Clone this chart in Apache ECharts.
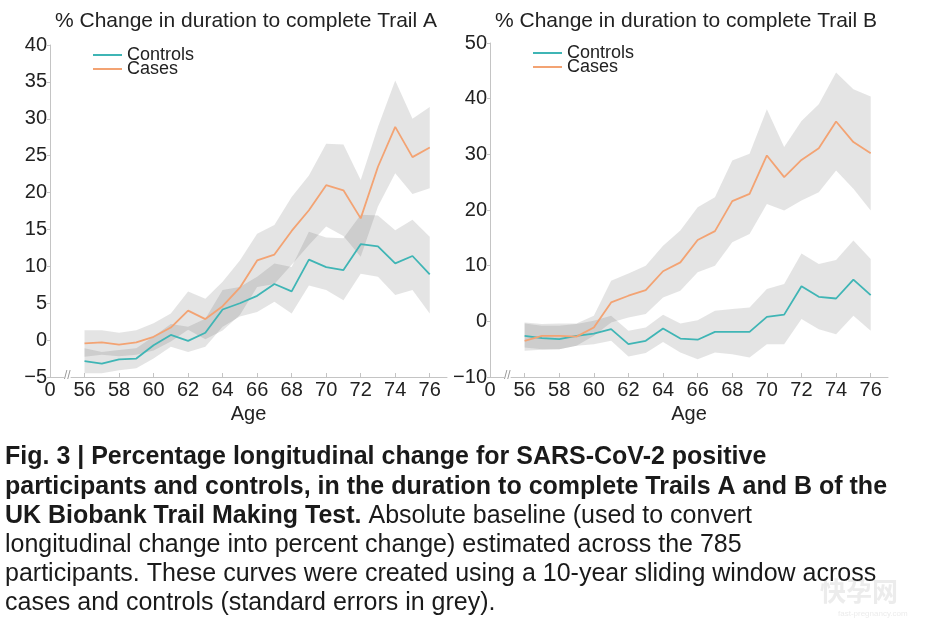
<!DOCTYPE html>
<html>
<head>
<meta charset="utf-8">
<script src="https://cdn.jsdelivr.net/npm/echarts@6/dist/echarts.min.js"></script>
<style>
html,body{margin:0;padding:0;background:#fff;}
#c{width:935px;height:625px;}
</style>
</head>
<body>
<div id="c"></div>
<script>
// ---------- data ----------
const ages = [56,57,58,59,60,61,62,63,64,65,66,67,68,69,70,71,72,73,74,75,76];

// Trail A
const aControls   = [-2.85,-3.2,-2.6,-2.5,-0.7,0.7,-0.1,1.0,4.15,5.0,6.0,7.6,6.6,10.9,9.9,9.5,13.0,12.7,10.4,11.4,8.9];
const aControlsLo = [-4.5,-4.5,-4.1,-3.8,-2.5,-0.9,-1.6,-0.9,1.8,3.2,3.8,5.2,3.6,7.4,6.8,5.4,9.0,8.6,6.1,6.8,3.6];
const aControlsHi = [-1.1,-1.6,-1.35,-1.1,0.5,2.2,1.8,2.9,6.8,7.2,8.6,10.4,9.9,14.7,13.9,13.8,17.0,16.9,14.9,16.3,14.0];
const aCases      = [-0.45,-0.3,-0.6,-0.3,0.45,1.7,4.0,2.85,4.6,7.1,10.8,11.6,14.8,17.6,21.0,20.3,16.5,23.5,28.9,24.8,26.1];
const aCasesLo    = [-2.25,-2.0,-2.2,-2.0,-1.4,-0.2,1.4,0.1,1.3,3.4,7.2,7.6,10.2,12.9,15.4,14.1,11.3,18.1,22.6,19.8,20.6];
const aCasesHi    = [1.35,1.35,1.0,1.35,2.3,3.6,6.6,5.6,7.9,10.8,14.4,15.6,19.4,22.3,26.6,26.5,21.7,28.9,35.2,30.0,31.6];

// Trail B
const bControls   = [-2.6,-3.0,-3.2,-2.6,-2.2,-1.4,-4.1,-3.5,-1.3,-3.1,-3.3,-1.9,-1.9,-1.9,0.8,1.2,6.3,4.4,4.1,7.5,4.7];
const bControlsLo = [-4.7,-5.0,-5.0,-4.4,-4.1,-3.5,-6.3,-5.7,-3.7,-5.6,-6.8,-5.6,-5.9,-6.5,-4.1,-4.1,0.4,-1.4,-2.3,1.0,-1.7];
const bControlsHi = [-0.4,-0.8,-0.8,-0.5,0.1,1.0,-1.7,-1.1,1.2,-0.4,0.2,1.9,2.2,2.5,5.8,6.7,12.2,10.3,11.0,14.5,11.2];
const bCases      = [-3.5,-2.6,-2.6,-2.75,-1.1,3.4,4.6,5.6,9.0,10.6,14.6,16.2,21.6,22.9,29.8,25.9,29.0,31.1,35.9,32.2,30.2];
const bCasesLo    = [-5.3,-5.1,-5.0,-4.4,-2.6,-0.2,0.7,1.3,4.3,5.5,8.8,10.0,14.2,15.7,21.1,19.9,21.7,23.2,27.1,23.8,19.9];
const bCasesHi    = [-0.2,-0.5,-0.4,-0.4,1.0,7.3,8.6,10.0,13.6,16.3,20.5,22.3,28.9,30.1,38.1,31.3,36.0,39.0,44.7,41.7,40.4];

// axes / ticks
const xMin = 54, xMax = 77;
const xTicks = [54,56,58,60,62,64,66,68,70,72,74,76];
const xTickLabels = ['0','56','58','60','62','64','66','68','70','72','74','76'];
const yA = {min:-5, max:40, interval:5};
const yB = {min:-10, max:50, interval:10};

const titles = ['% Change in duration to complete Trail A', '% Change in duration to complete Trail B'];
const seriesNames = ['Controls', 'Cases'];
const captionLines = [
  [{b:'Fig. 3 | Percentage longitudinal change for SARS-CoV-2 positive'}],
  [{b:'participants and controls, in the duration to complete Trails A and B of the'}],
  [{b:'UK Biobank Trail Making Test.'},{n:' Absolute baseline (used to convert'}],
  [{n:'longitudinal change into percent change) estimated across the 785'}],
  [{n:'participants. These curves were created using a 10-year sliding window across'}],
  [{n:'cases and controls (standard errors in grey).'}]
];

// ---------- styles ----------
const TEAL = '#3fb5b5';
const ORANGE = '#f3a373';
const BAND = 'rgba(70,70,70,0.145)';
const AXIS = '#c4c4c4';
const TXT = '#222';
const FONT = "'Liberation Sans', Arial, sans-serif";
const CAPFONT = "'Liberation Sans Narrow', 'Liberation Sans', sans-serif";
const TICKFS = 20;

function pairs(v){ return ages.map((a,i)=>[a, v[i]]); }

function band(idx, lo, hi){
  return {
    type:'custom', xAxisIndex:idx, yAxisIndex:idx, silent:true, z:1,
    data: ages.map((a,i)=>[a, lo[i], hi[i]]),
    encode:{x:0, y:[1,2]},
    renderItem:function(params, api){
      if (params.dataIndex !== 0) return null;
      const pts = [];
      for (let i=0;i<ages.length;i++) pts.push(api.coord([ages[i], hi[i]]));
      for (let i=ages.length-1;i>=0;i--) pts.push(api.coord([ages[i], lo[i]]));
      return {type:'polygon', shape:{points:pts}, style:{fill:BAND}};
    }
  };
}
function line(idx, name, v, color){
  return {
    type:'line', name:name, xAxisIndex:idx, yAxisIndex:idx, z:3,
    data:pairs(v), showSymbol:false, symbol:'none',
    lineStyle:{color:color, width:1.8}, itemStyle:{color:color},
    animation:false
  };
}
function xAxis(grid){
  return {
    type:'value', gridIndex:grid, min:xMin, max:xMax,
    name:'Age', nameLocation:'middle', nameGap:24,
    nameTextStyle:{color:TXT, fontSize:20, fontFamily:FONT},
    axisLine:{show:true, onZero:false, lineStyle:{color:AXIS, width:1}},
    axisTick:{show:true, inside:true, length:4, customValues:xTicks, lineStyle:{color:AXIS}},
    axisLabel:{customValues:xTicks, color:TXT, fontSize:TICKFS, fontFamily:FONT, margin:3,
      formatter:function(v){ const k = xTicks.indexOf(v); return k>=0 ? xTickLabels[k] : ''; }},
    splitLine:{show:false}
  };
}
function yAxis(grid, cfg){
  return {
    type:'value', gridIndex:grid, min:cfg.min, max:cfg.max, interval:cfg.interval,
    axisLine:{show:true, lineStyle:{color:AXIS, width:1}},
    axisTick:{show:true, inside:false, length:3, lineStyle:{color:AXIS}},
    axisLabel:{color:TXT, fontSize:TICKFS, fontFamily:FONT, margin:3,
      formatter:function(v){ return v<0 ? '\u2212'+Math.abs(v) : String(v); }},
    splitLine:{show:false}
  };
}

const captionGraphics = captionLines.map((parts, i)=>({
  id:'cap'+i, type:'text', left:5, top:445 + i*29.2, silent:true, z:2,
  style:{
    text: parts.map(p=> p.b!==undefined ? '{b|'+p.b+'}' : '{n|'+p.n+'}').join(''),
    rich:{
      b:{fontFamily:CAPFONT, fontWeight:'bold', fontSize:25, fill:'#1a1a1a'},
      n:{fontFamily:CAPFONT, fontWeight:'normal', fontSize:25, fill:'#1a1a1a'}
    }
  }
}));

const chart = echarts.init(document.getElementById('c'), null, {renderer:'canvas'});
const option = {
  animation:false,
  backgroundColor:'#fff',
  title:[
    {text:titles[0], left:241, top:6, textAlign:'center', textStyle:{fontSize:21, fontWeight:'normal', color:TXT, fontFamily:FONT}},
    {text:titles[1], left:681, top:6, textAlign:'center', textStyle:{fontSize:21, fontWeight:'normal', color:TXT, fontFamily:FONT}}
  ],
  legend:[
    {data:seriesNames, orient:'vertical', left:88, top:41, itemWidth:29, itemHeight:2, itemGap:-4, icon:'rect',
     textStyle:{color:TXT, fontSize:18, fontFamily:FONT}},
    {data:seriesNames, orient:'vertical', left:528, top:39, itemWidth:29, itemHeight:2, itemGap:-4, icon:'rect',
     textStyle:{color:TXT, fontSize:18, fontFamily:FONT}}
  ],
  grid:[
    {left:50, top:45, width:397, height:332},
    {left:490, top:43, width:398, height:334}
  ],
  xAxis:[xAxis(0), xAxis(1)],
  yAxis:[yAxis(0, yA), yAxis(1, yB)],
  series:[
    band(0, aCasesLo, aCasesHi),
    band(0, aControlsLo, aControlsHi),
    line(0, seriesNames[0], aControls, TEAL),
    line(0, seriesNames[1], aCases, ORANGE),
    band(1, bCasesLo, bCasesHi),
    band(1, bControlsLo, bControlsHi),
    line(1, seriesNames[0], bControls, TEAL),
    line(1, seriesNames[1], bCases, ORANGE)
  ],
  graphic: captionGraphics
};
chart.setOption(option);

// axis break marks, placed via the axes' own scales
const breakVal = (xMin + ages[0]) / 2;
const extra = [];
[[0, yA.min],[1, yB.min]].forEach(([g, ymin])=>{
  const p = chart.convertToPixel({gridIndex:g}, [breakVal, ymin]);
  extra.push({id:'brk'+g, type:'text', x:p[0], y:p[1]-1, silent:true, z:3,
    style:{text:'//', fill:'#999', fontSize:12, fontFamily:FONT, align:'center', verticalAlign:'middle', backgroundColor:'#fff'}});
});
extra.push({id:'wm1', type:'text', left:820, top:578, silent:true, z:1, style:{text:'快孕网', fill:'#ececec', fontSize:26, fontWeight:'bold', fontFamily:"'Noto Sans CJK SC', sans-serif"}});
extra.push({id:'wm2', type:'text', left:838, top:610, silent:true, z:1, style:{text:'fast-pregnancy.com', fill:'#ececec', fontSize:8, fontFamily:FONT}});
chart.setOption({graphic: captionGraphics.concat(extra)});
</script>
</body>
</html>
